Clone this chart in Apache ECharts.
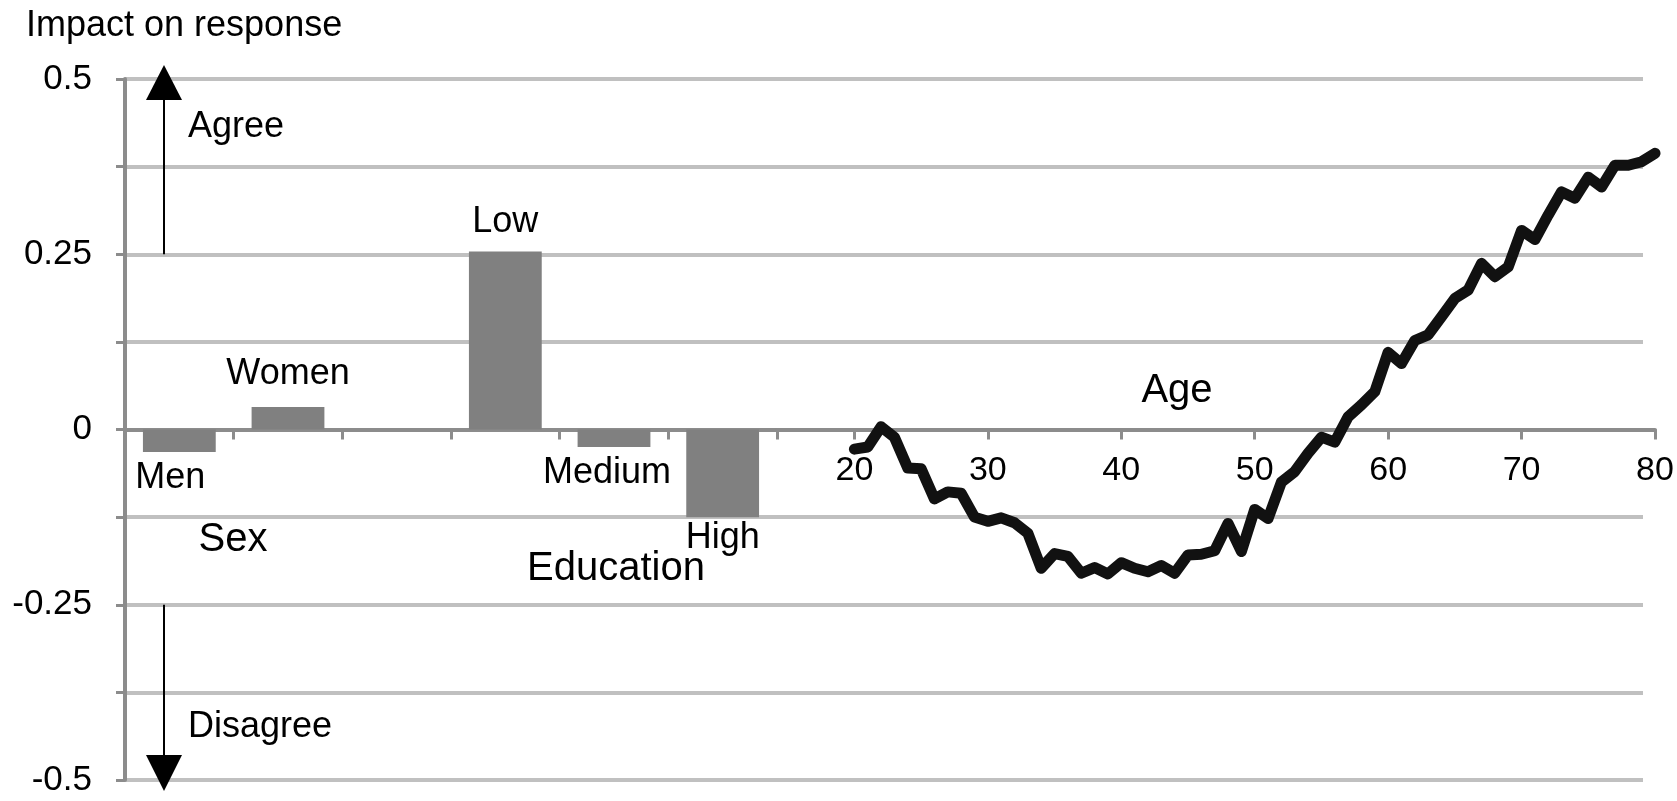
<!DOCTYPE html>
<html><head><meta charset="utf-8">
<script src="https://cdn.jsdelivr.net/npm/echarts@6/dist/echarts.min.js"></script>
<style>html,body{margin:0;padding:0;background:#fff}#c{width:1677px;height:801px}</style>
</head><body><div id="c"></div>
<script>
// ---- data ----
const categories = ['Men', 'Women', '', 'Low', 'Medium', 'High'];
const barValues = [-0.032, 0.032, null, 0.254, -0.025, -0.125];
const ages = [20,21,22,23,24,25,26,27,28,29,30,31,32,33,34,35,36,37,38,39,40,
              41,42,43,44,45,46,47,48,49,50,51,52,53,54,55,56,57,58,59,60,
              61,62,63,64,65,66,67,68,69,70,71,72,73,74,75,76,77,78,79,80];
const ageEffect = [-0.028,-0.025,0.004,-0.011,-0.055,-0.056,-0.099,-0.089,-0.091,-0.125,-0.131,
                   -0.126,-0.133,-0.148,-0.198,-0.177,-0.181,-0.205,-0.197,-0.206,-0.190,
                   -0.198,-0.203,-0.194,-0.205,-0.179,-0.178,-0.173,-0.134,-0.174,-0.114,
                   -0.127,-0.075,-0.060,-0.034,-0.011,-0.018,0.018,0.035,0.054,0.110,
                   0.094,0.127,0.135,0.161,0.187,0.199,0.237,0.218,0.232,0.284,
                   0.271,0.306,0.339,0.330,0.360,0.346,0.377,0.377,0.382,0.394];
const yTickLabels = [-0.5, -0.25, 0, 0.25, 0.5];
const ageTicks = [20, 30, 40, 50, 60, 70, 80];

// ---- styling ----
const FONT = '"Liberation Sans", Arial, sans-serif';
const AXIS = '#8c8c8c', GRIDC = '#c0c0c0';
const labelPlacement = [
  {position: 'bottom', distance: 8, offset: [-9, 0]},
  {position: 'top', distance: 15, offset: [0, 0]},
  {position: 'top', distance: 10, offset: [0, 0]},
  {position: 'top', distance: 11, offset: [0, 0]},
  {position: 'bottom', distance: 8, offset: [-7, 0]},
  {position: 'bottom', distance: 3, offset: [0, 0]}
];

const chart = echarts.init(document.getElementById('c'), null, {renderer: 'canvas'});
const TOP = 79, BOT = 21;           // plot box (y = 0.5 .. -0.5)
const ZERO_Y = TOP + (801 - TOP - BOT) / 2;

chart.setOption({
  animation: false,
  backgroundColor: '#fff',
  grid: [
    {left: 125, right: 34, top: TOP, bottom: BOT, outerBoundsMode: 'none'},
    {left: 125, width: 652, top: TOP, bottom: BOT, outerBoundsMode: 'none'},
    {left: 777, right: 22, top: TOP, bottom: 801 - ZERO_Y, outerBoundsMode: 'none'}
  ],
  xAxis: [
    {gridIndex: 0, type: 'value', min: 0, max: 1, show: false, splitLine: {show: false}},
    {gridIndex: 1, type: 'category', data: categories,
     axisLine: {onZero: true, lineStyle: {color: AXIS, width: 4}},
     axisTick: {show: true, length: 10, interval: 0, lineStyle: {color: AXIS, width: 3}},
     axisLabel: {show: false}, splitLine: {show: false}},
    {gridIndex: 2, type: 'value', min: 14.2, max: 80, position: 'bottom',
     axisLine: {onZero: false, lineStyle: {color: AXIS, width: 4}},
     axisTick: {show: true, length: 10, customValues: ageTicks, lineStyle: {color: AXIS, width: 3}},
     axisLabel: {customValues: ageTicks, fontSize: 34, color: '#000', margin: 24, fontFamily: FONT},
     splitLine: {show: false}}
  ],
  yAxis: [
    {gridIndex: 0, type: 'value', min: -0.5, max: 0.5, interval: 0.125,
     axisLine: {show: true, lineStyle: {color: AXIS, width: 4}},
     axisTick: {show: true, length: 9, lineStyle: {color: AXIS, width: 3}},
     axisLabel: {fontSize: 35, color: '#000', margin: 33, fontFamily: FONT,
       formatter: v => yTickLabels.some(t => Math.abs(t - v) < 1e-9) ? String(+v.toFixed(3)) : ''},
     splitLine: {show: true, lineStyle: {color: GRIDC, width: 4}}},
    {gridIndex: 1, type: 'value', min: -0.5, max: 0.5, show: false, splitLine: {show: false}},
    {gridIndex: 2, type: 'value', min: 0, max: 0.5, show: false, splitLine: {show: false}}
  ],
  series: [
    {type: 'bar', xAxisIndex: 1, yAxisIndex: 1, barCategoryGap: '33%',
     itemStyle: {color: '#808080'},
     label: {show: true, formatter: '{b}', fontSize: 36, color: '#000', fontFamily: FONT},
     data: barValues.map((v, i) => ({value: v, label: labelPlacement[i]}))},
    {type: 'line', xAxisIndex: 2, yAxisIndex: 2, symbol: 'none', z: 5, clip: false,
     lineStyle: {color: '#111', width: 11, join: 'round', cap: 'round'},
     data: ages.map((a, i) => [a, ageEffect[i]])}
  ]
});

const py = v => chart.convertToPixel({yAxisIndex: 0}, v);
const ax = 164;
const txt = (text, x, y, size, align) => ({type: 'text', silent: true, z: 10,
  style: {text, x, y, fill: '#000', font: size + 'px ' + FONT, align: align || 'left', verticalAlign: 'middle'}});
chart.setOption({graphic: [
  txt('Impact on response', 26, 26, 36),
  txt('Agree', 188, 127, 36),
  txt('Disagree', 188, 727, 36),
  txt('Sex', 233, 540, 40, 'center'),
  txt('Education', 616, 569, 40, 'center'),
  txt('Age', 1177, 391, 40, 'center'),
  {type: 'line', z: 10, shape: {x1: ax, y1: py(0.25), x2: ax, y2: py(0.5) + 20}, style: {stroke: '#000', lineWidth: 2}},
  {type: 'polygon', z: 10, shape: {points: [[ax, py(0.5) - 14], [ax - 18, py(0.5) + 21], [ax + 18, py(0.5) + 21]]}, style: {fill: '#000'}},
  {type: 'line', z: 10, shape: {x1: ax, y1: py(-0.25), x2: ax, y2: py(-0.5) - 24}, style: {stroke: '#000', lineWidth: 2}},
  {type: 'polygon', z: 10, shape: {points: [[ax, py(-0.5) + 11], [ax - 18, py(-0.5) - 25], [ax + 18, py(-0.5) - 25]]}, style: {fill: '#000'}}
]});
</script>
</body></html>
